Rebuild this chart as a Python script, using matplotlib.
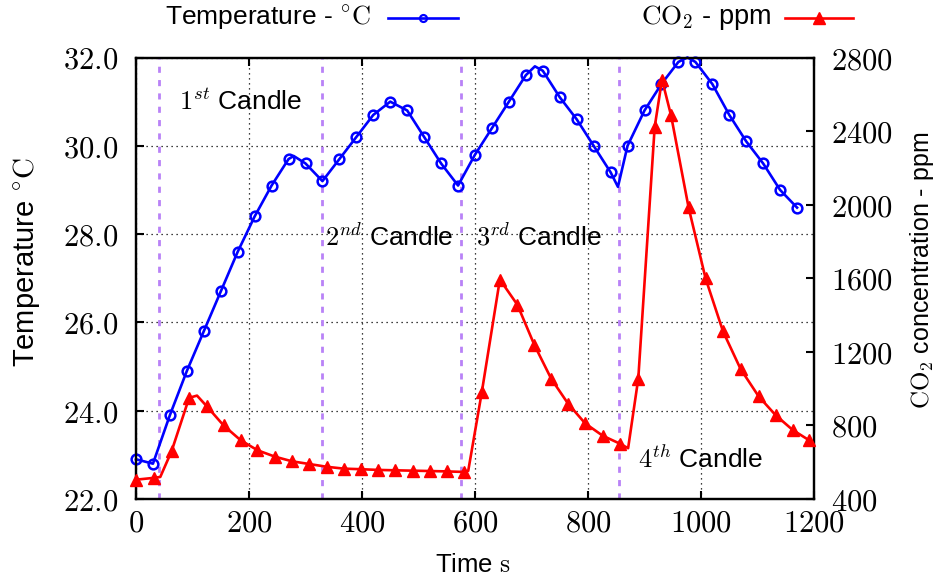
import matplotlib
matplotlib.use("Agg")
import matplotlib.pyplot as plt
from matplotlib.lines import Line2D
from matplotlib.ticker import FuncFormatter

plt.rcParams['font.family'] = ['Liberation Sans', 'DejaVu Sans']
plt.rcParams['mathtext.fontset'] = 'cm'

# ---------------- data ----------------
temp_time = [0, 30, 60, 90, 120, 150, 180, 210, 240, 270, 279, 300, 330, 360, 390, 420,
             450, 480, 510, 540, 570, 600, 630, 660, 690, 706, 720, 750, 780, 810,
             840, 853, 870, 900, 930, 960, 976, 990, 1020, 1050, 1080, 1110, 1140, 1170]
temp_value = [22.9, 22.8, 23.9, 24.9, 25.8, 26.7, 27.6, 28.4, 29.1, 29.7, 29.77, 29.6, 29.2,
              29.7, 30.2, 30.7, 31.0, 30.8, 30.2, 29.6, 29.1, 29.8, 30.4, 31.0, 31.6,
              31.8, 31.7, 31.1, 30.6, 30.0, 29.4, 29.07, 30.0, 30.8, 31.4, 31.9, 32.0,
              31.9, 31.4, 30.7, 30.1, 29.6, 29.0, 28.6]
temp_unmarked = [279, 706, 853, 976]

co2_time = [0, 32, 43, 63, 94, 108, 125, 155, 185, 215, 246, 276, 307, 338, 368, 398,
            429, 459, 490, 520, 550, 581, 588, 612, 644, 675, 705, 735, 765, 795, 826,
            857, 871, 889, 918, 931, 947, 978, 1008, 1039, 1070, 1102, 1132, 1162, 1191]
co2_ppm = [505, 515, 520, 660, 950, 962, 905, 800, 720, 665, 630, 605, 590, 575, 565,
           562, 558, 556, 554, 552, 550, 547, 553, 980, 1593, 1456, 1238, 1053, 917,
           811, 744, 700, 676, 1055, 2422, 2680, 2485, 1985, 1600, 1311, 1107, 958,
           856, 776, 720]
co2_unmarked = [43, 108, 588, 871]

candle_times = [40, 330, 575, 855]
candle_labels = [r"$1^{st}$ Candle", r"$2^{nd}$ Candle", r"$3^{rd}$ Candle", r"$4^{th}$ Candle"]
candle_label_pos = [(76, 31.0), (335, 27.93), (602, 27.93), (888, 22.9)]

x_ticks = [0, 200, 400, 600, 800, 1000, 1200]
temp_ticks = [22, 24, 26, 28, 30, 32]
co2_ticks = [400, 800, 1200, 1600, 2000, 2400, 2800]

# ---------------- figure ----------------
W, H = 938, 581
fig = plt.figure(figsize=(W / 100, H / 100), dpi=100)
ax = fig.add_axes([136 / W, 1 - 499 / H, 678 / W, 441.5 / H])
ax2 = ax.twinx()

BLUE = '#0000ff'
RED = '#ff0000'
PURPLE = '#b982f7'

for t in candle_times:
    ax.axvline(t, color=PURPLE, linestyle=(0, (2.2, 2.6)), linewidth=2.0, zorder=1)

temp_marks = [i for i, t in enumerate(temp_time) if t not in temp_unmarked]
ax.plot(temp_time, temp_value, color=BLUE, linewidth=1.9, marker='o', markersize=7,
        markerfacecolor='none', markeredgecolor=BLUE, markeredgewidth=1.8,
        markevery=temp_marks, zorder=3, clip_on=False)

co2_marks = [i for i, t in enumerate(co2_time) if t not in co2_unmarked]
ax2.plot(co2_time, co2_ppm, color=RED, linewidth=1.9, marker='^', markersize=9,
         markevery=co2_marks, zorder=3, clip_on=False)

ax.set_xlim(0, 1200)
ax.set_ylim(22, 32)
ax2.set_ylim(400, 2800)
ax.set_xticks(x_ticks)
ax.set_yticks(temp_ticks)
ax2.set_yticks(co2_ticks)

ax.xaxis.set_major_formatter(FuncFormatter(lambda v, p: r"$%d$" % v))
ax.yaxis.set_major_formatter(FuncFormatter(lambda v, p: r"$%.1f$" % v))
ax2.yaxis.set_major_formatter(FuncFormatter(lambda v, p: r"$%d$" % v))

ax.grid(True, color='black', linestyle=(0, (1, 3)), linewidth=0.9)
ax.set_axisbelow(True)

ax.tick_params(axis='x', direction='in', top=True, length=6, width=1.5,
               labelsize=22, pad=7)
ax.tick_params(axis='y', direction='in', length=6, width=1.5, labelsize=22, pad=13)
ax2.tick_params(axis='y', direction='in', length=6, width=1.5, labelsize=22, pad=12)
for a in (ax, ax2):
    for s in a.spines.values():
        s.set_linewidth(1.6)

for lbl, (tx, ty) in zip(candle_labels, candle_label_pos):
    ax.text(tx, ty, lbl, fontsize=19, ha='left', va='center', zorder=4)

# axis labels
fig.text(26 / W, 1 - 262 / H, r"Temperature $\mathrm{{}^{\circ}C}$", rotation=90,
         ha='center', va='center', fontsize=21)
fig.text(922 / W, 1 - 270 / H, r"$\mathrm{CO_2}$ concentration - ppm", rotation=90,
         ha='center', va='center', fontsize=18)
fig.text(473 / W, 1 - 565 / H, r"Time $\mathrm{s}$", ha='center', va='center',
         fontsize=18.5)

# legend (gnuplot style: text then sample)
ly = 1 - 18 / H
fig.text(371 / W, ly, r"Temperature - $\mathrm{{}^{\circ}C}$", ha='right', va='center',
         fontsize=19)
fig.add_artist(Line2D([388 / W, 458 / W], [ly, ly], transform=fig.transFigure,
                      color=BLUE, linewidth=1.9))
fig.add_artist(Line2D([423 / W], [ly], transform=fig.transFigure, color=BLUE,
                      marker='o', markersize=5, markerfacecolor='none',
                      markeredgewidth=1.6))
fig.text(771 / W, ly, r"$\mathrm{CO_2}$ - ppm", ha='right', va='center', fontsize=19.5)
fig.add_artist(Line2D([785 / W, 853 / W], [ly, ly], transform=fig.transFigure,
                      color=RED, linewidth=1.9))
fig.add_artist(Line2D([819 / W], [ly], transform=fig.transFigure, color=RED,
                      marker='^', markersize=8))

fig.savefig("out.png", dpi=100)
